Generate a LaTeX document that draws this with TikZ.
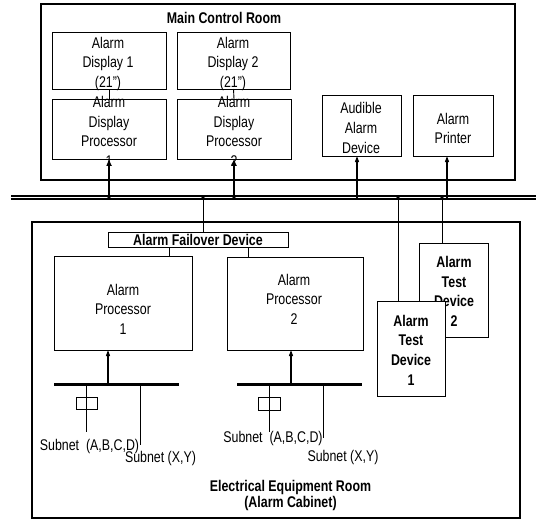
\documentclass[tikz,border=0pt]{standalone}
\usepackage{fontspec}
\setmainfont{Liberation Sans}[FakeStretch=0.8]
\usetikzlibrary{arrows.meta}
\begin{document}
\begin{tikzpicture}[x=1pt,y=-1pt,
  every node/.style={inner sep=0pt, outer sep=0pt},
  room/.style={draw, line width=1.3pt},
  box/.style={draw, line width=1pt, fill=white},
  txt/.style={font=\fontsize{15.5}{19.5}\selectfont, align=center},
  btxt/.style={font=\fontsize{15.5}{19.5}\selectfont\bfseries, align=center},
  wire/.style={line width=0.9pt},
  up/.style={line width=1.1pt, -{Triangle[length=6pt,width=4pt]}},
  jdot/.style={circle, fill, minimum size=3.4pt},
  subbar/.style={fill, minimum height=3pt},
  smallbox/.style={draw, line width=0.9pt}]
\useasboundingbox (0,0) rectangle (536,520);

% rooms
\node[room, minimum width=474, minimum height=176] (mcr) at (278,92) {};
\node[room, minimum width=488, minimum height=296] (eer) at (276,370) {};
\node[btxt] (mcrt) at (224,18) {Main Control Room};
\node[btxt, font=\fontsize{15.5}{16}\selectfont\bfseries] (eert) at (290.5,495) {Electrical Equipment Room\\(Alarm Cabinet)};

% main control room boxes
\node[box, minimum width=114, minimum height=57] (d1) at (109,60.5) {};
\node[box, minimum width=113, minimum height=57] (d2) at (233.5,60.5) {};
\node[box, minimum width=114, minimum height=60] (p1) at (109,129) {};
\node[box, minimum width=114, minimum height=60] (p2) at (234,129) {};
\node[box, minimum width=79, minimum height=61] (aud) at (361.5,125.5) {};
\node[box, minimum width=80, minimum height=61] (prn) at (453,125.5) {};

\node[txt] (d1t) at (108,63.5) {Alarm\\Display 1\\(21")};
\node[txt] (d2t) at (233,63.5) {Alarm\\Display 2\\(21")};
\node[txt] (p1t) at (109,131.5) {Alarm\\Display\\Processor\\1};
\node[txt] (p2t) at (234,131.5) {Alarm\\Display\\Processor\\2};
\node[txt, font=\fontsize{15.5}{20}\selectfont] (audt) at (361,128) {Audible\\Alarm\\Device};
\node[txt, font=\fontsize{15.5}{19}\selectfont] (prnt) at (453,128.5) {Alarm\\Printer};

\draw[wire] (d1.south) -- (p1.north);
\draw[wire] (d2.south) -- (p2.north);

% bus
\coordinate (busL) at (11,197.5);
\coordinate (busR) at (536,197.5);
\draw[double, line width=2pt, double distance=1pt] (busL) -- (busR);

\draw[up] (p1.south |- busL) -- (p1.south);
\draw[up] (p2.south |- busL) -- (p2.south);
\draw[up] ([xshift=-4.5]aud.south |- busL) -- ([xshift=-4.5]aud.south);
\draw[up] ([xshift=-6]prn.south |- busL) -- ([xshift=-6]prn.south);

% electrical equipment room
\node[box, minimum width=180, minimum height=15] (fo) at (198,239.5) {};
\node[btxt] (fot) at (198,240) {Alarm Failover Device};
\node[box, minimum width=138, minimum height=94] (ap1) at (123,303) {};
\node[box, minimum width=136, minimum height=93] (ap2) at (295,303.5) {};
\node[txt] (ap1t) at (123,309) {Alarm\\Processor\\1};
\node[txt] (ap2t) at (294,299) {Alarm\\Processor\\2};

\draw[wire] ([xshift=5]fo.north |- busL) -- ([xshift=5]fo.north);
\draw[wire] ([xshift=-29]fo.south) -- ([xshift=-29]fo.south |- ap1.north);
\draw[wire] ([xshift=50]fo.south) -- ([xshift=50]fo.south |- ap2.north);

% test devices
\node[box, minimum width=69, minimum height=94] (td2) at (453.5,290) {};
\node[btxt, font=\fontsize{15.5}{19.7}\selectfont\bfseries] (td2t) at (454,291.5) {Alarm\\Test\\Device\\2};
\node[box, minimum width=68, minimum height=95] (td1) at (411,348.5) {};
\node[btxt, font=\fontsize{15.5}{19.7}\selectfont\bfseries] (td1t) at (411,350) {Alarm\\Test\\Device\\1};
\draw[wire] ([xshift=-13]td1.north |- busL) -- ([xshift=-13]td1.north);
\draw[wire] ([xshift=-11.5]td2.north |- busL) -- ([xshift=-11.5]td2.north);

% junction dots on the bus
\node[jdot] (j1) at (p1.south |- busL) {};
\node[jdot] (j2) at (p2.south |- busL) {};
\node[jdot] (j3) at ([xshift=5]fo.north |- busL) {};
\node[jdot] (j4) at ([xshift=-13]td1.north |- busL) {};
\node[jdot] (j5) at ([xshift=-11.5]td2.north |- busL) {};

% subnet bars
\node[subbar, minimum width=125] (bar1) at (116.5,384) {};
\node[subbar, minimum width=125] (bar2) at (299.5,384) {};
\draw[up] ([xshift=-15]ap1.south |- bar1.north) -- ([xshift=-15]ap1.south);
\draw[up] ([xshift=-4]ap2.south |- bar2.north) -- ([xshift=-4]ap2.south);

\node[smallbox, minimum width=21, minimum height=12] (sb1) at (86.5,403) {};
\node[smallbox, minimum width=22, minimum height=13] (sb2) at (269,403.5) {};
\coordinate (s1a) at (86,432);
\coordinate (s1b) at (140,445);
\coordinate (s2a) at (269,432);
\coordinate (s2b) at (323,438);
\draw[wire] (s1a |- bar1.south) -- (s1a);
\draw[wire] (s1b |- bar1.south) -- (s1b);
\draw[wire] (s2a |- bar2.south) -- (s2a);
\draw[wire] (s2b |- bar2.south) -- (s2b);

\node[txt] (l1a) at (89.5,446) {Subnet\ \ (A,B,C,D)};
\node[txt] (l1b) at (160.5,458) {Subnet (X,Y)};
\node[txt] (l2a) at (273,438) {Subnet\ \ (A,B,C,D)};
\node[txt] (l2b) at (343,457) {Subnet (X,Y)};
\end{tikzpicture}
\end{document}
